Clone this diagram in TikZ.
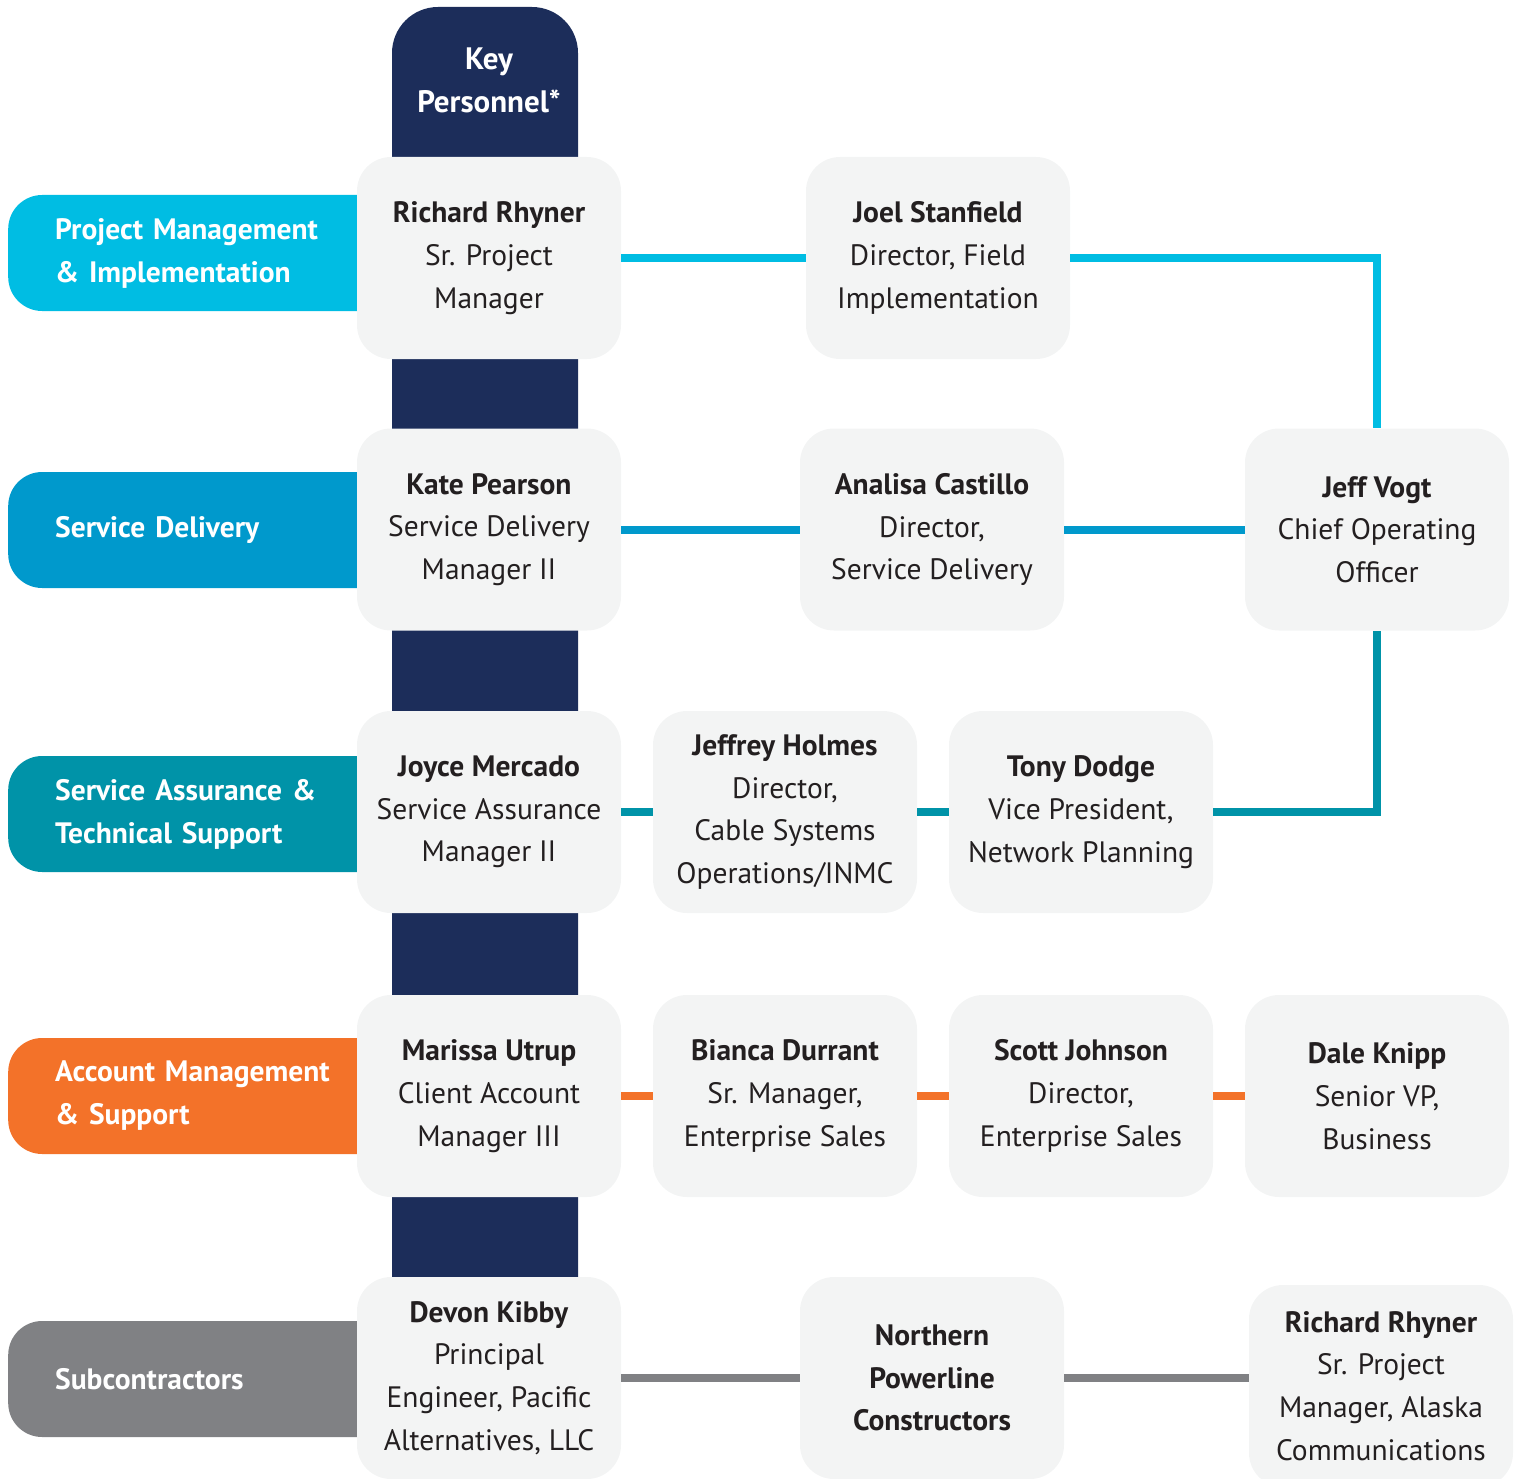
\documentclass[tikz,border=0pt]{standalone}
\usepackage{fontspec}
\setmainfont{PT Sans}
\definecolor{navy}{HTML}{1C2D5A}
\definecolor{boxgray}{HTML}{F3F4F4}
\definecolor{textdark}{HTML}{231F20}
\definecolor{cpm}{HTML}{00BDE3}
\definecolor{csd}{HTML}{0099CC}
\definecolor{csa}{HTML}{0093A8}
\definecolor{cam}{HTML}{F37229}
\definecolor{csub}{HTML}{808184}
\begin{document}
\begin{tikzpicture}[x=1pt,y=-1pt,
  pbox/.style={fill=boxgray, rounded corners=34pt, minimum width=264pt, minimum height=202pt,
    align=center, text=textdark, font=\fontsize{29.5}{42.7}\selectfont, inner sep=0pt},
  cat/.style={rounded corners=34pt, minimum width=392pt, minimum height=116pt, anchor=west,
    text width=298pt, align=left, inner xsep=47pt, inner ysep=0pt, text=white,
    font=\bfseries\fontsize{29.5}{43}\selectfont},
  keytext/.style={text=white, align=center, font=\bfseries\fontsize{31}{43}\selectfont},
  link/.style={line width=8pt}]
\useasboundingbox (0,0) rectangle (1522,1479);
% key personnel column
\fill[navy, rounded corners=46pt] (392,7) rectangle (578,1400);
\node[keytext] (key) at (489,80) {Key\\Personnel*};
% categories
\node[cat, fill=cpm] (c1) at (8,253) {Project Management\\\&~Implementation};
\node[cat, fill=csd] (c2) at (8,530) {Service Delivery};
\node[cat, fill=csa] (c3) at (8,814) {Service Assurance~\&\\Technical Support};
\node[cat, fill=cam] (c4) at (8,1096) {Account Management\\\&~Support};
\node[cat, fill=csub] (c5) at (8,1379) {Subcontractors};
% boxes
\node[pbox] (richard) at (489,258) {\textbf{Richard Rhyner}\\Sr. Project\\Manager};
\node[pbox] (joel) at (938,258) {\textbf{Joel Stanfield}\\Director, Field\\Implementation};
\node[pbox] (kate) at (489,529.5) {\textbf{Kate Pearson}\\Service Delivery\\Manager II};
\node[pbox] (analisa) at (932,529.5) {\textbf{Analisa Castillo}\\Director,\\Service Delivery};
\node[pbox] (jeff) at (1377,529.5) {\textbf{Jeff Vogt}\\Chief Operating\\Officer};
\node[pbox] (joyce) at (489,812) {\textbf{Joyce Mercado}\\Service Assurance\\Manager II};
\node[pbox] (jeffrey) at (785,812) {\textbf{Jeffrey Holmes}\\Director,\\Cable Systems\\Operations/INMC};
\node[pbox] (tony) at (1081,812) {\textbf{Tony Dodge}\\Vice President,\\Network Planning};
\node[pbox] (marissa) at (489,1096) {\textbf{Marissa Utrup}\\Client Account\\Manager III};
\node[pbox] (bianca) at (785,1096) {\textbf{Bianca Durrant}\\Sr. Manager,\\Enterprise Sales};
\node[pbox] (scott) at (1081,1096) {\textbf{Scott Johnson}\\Director,\\Enterprise Sales};
\node[pbox] (dale) at (1377,1096) {\textbf{Dale Knipp}\\Senior VP,\\Business};
\node[pbox] (devon) at (489,1378) {\textbf{Devon Kibby}\\Principal\\Engineer, Pacific\\Alternatives, LLC};
\node[pbox] (northern) at (932,1378) {\textbf{Northern}\\\textbf{Powerline}\\\textbf{Constructors}};
\node[pbox] (rr2) at (1381,1386) {\textbf{Richard Rhyner}\\Sr. Project\\Manager, Alaska\\Communications};
% connectors
\draw[link, cpm] (richard.east) -- (joel.west);
\draw[link, cpm] (joel.east) -| (jeff.north);
\draw[link, csd] (kate.east) -- (analisa.west);
\draw[link, csd] (analisa.east) -- (jeff.west);
\draw[link, csa] (joyce.east) -- (jeffrey.west);
\draw[link, csa] (jeffrey.east) -- (tony.west);
\draw[link, csa] (tony.east) -| (jeff.south);
\draw[link, cam] (marissa.east) -- (bianca.west);
\draw[link, cam] (bianca.east) -- (scott.west);
\draw[link, cam] (scott.east) -- (dale.west);
\draw[link, csub] (devon.east) -- (northern.west);
\draw[link, csub] (northern.east) -- (rr2.west |- northern.east);
\end{tikzpicture}
\end{document}
